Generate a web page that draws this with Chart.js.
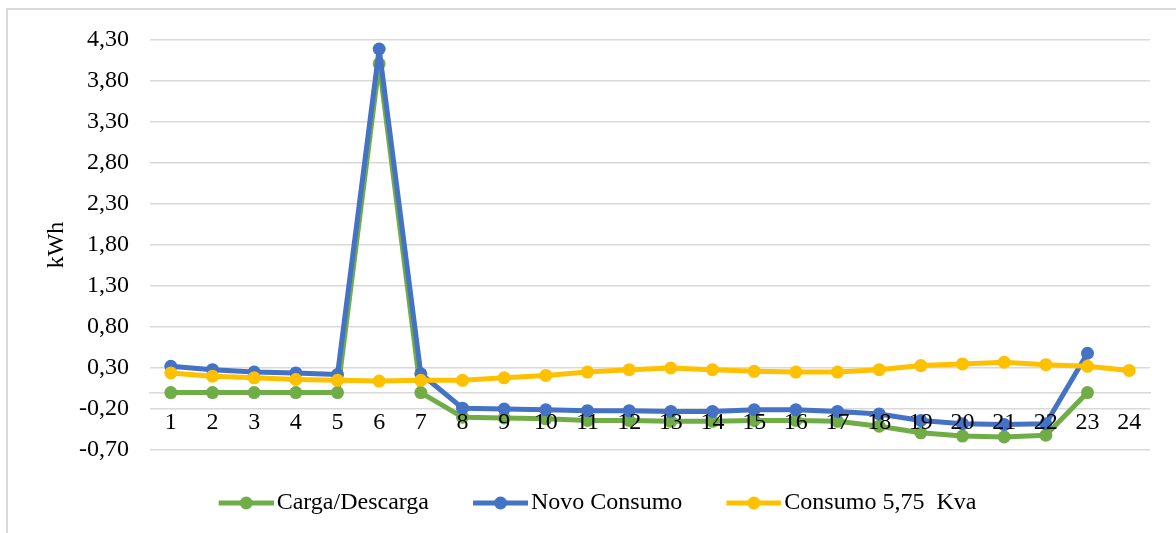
<!DOCTYPE html>
<html>
<head>
<meta charset="utf-8">
<script src="https://cdn.jsdelivr.net/npm/chart.js@4.4.1/dist/chart.umd.min.js"></script>
<style>
    html, body { margin: 0; padding: 0; background: #fff; }
    #wrap { position: relative; width: 1176px; height: 533px; overflow: hidden; }
    #chart { position: absolute; left: 0; top: 0; }
    /* moldura cinza do gráfico (sai pela direita e por baixo) */
    #frame { position: absolute; left: 6px; top: 8px; width: 1250px; height: 600px;
             border: 2px solid #d9d9d9; box-sizing: border-box; pointer-events: none; }
</style>
</head>
<body>
<div id="wrap">
    <canvas id="chart" width="1176" height="533"></canvas>
    <div id="frame"></div>
</div>
<script>
// Dados
const horas = ['1','2','3','4','5','6','7','8','9','10','11','12','13','14','15','16','17','18','19','20','21','22','23','24'];
const cargaDescarga = [0.00, 0.00, 0.00, 0.00, 0.00, 4.01, 0.00, -0.30, -0.31, -0.32, -0.34, -0.34, -0.35, -0.35, -0.34, -0.34, -0.35, -0.41, -0.49, -0.53, -0.54, -0.52, 0.00, null];
const novoConsumo   = [0.32, 0.28, 0.25, 0.24, 0.22, 4.19, 0.23, -0.19, -0.20, -0.21, -0.22, -0.22, -0.23, -0.23, -0.21, -0.21, -0.23, -0.26, -0.34, -0.38, -0.39, -0.38, 0.48, null];
const consumo575    = [0.24, 0.20, 0.18, 0.16, 0.15, 0.14, 0.15, 0.15, 0.18, 0.21, 0.25, 0.28, 0.30, 0.28, 0.26, 0.25, 0.25, 0.28, 0.33, 0.35, 0.37, 0.34, 0.32, 0.27];
const yTicks = [-0.70, -0.20, 0.30, 0.80, 1.30, 1.80, 2.30, 2.80, 3.30, 3.80, 4.30];

const fonte = { family: "'Liberation Serif', 'Times New Roman', serif", size: 24 };
const cores = { verde: '#70ad47', azul: '#4472c4', amarelo: '#ffc000' };

// Ícone da legenda: linha com bolinha no meio
const larguraIcone = 49;
function criarIcone(cor) {
    const c = document.createElement('canvas');
    c.width = larguraIcone + 18;
    c.height = 16;
    const ctx = c.getContext('2d');
    ctx.strokeStyle = cor;
    ctx.lineWidth = 5;
    ctx.beginPath();
    ctx.moveTo(c.width - 55, 8);
    ctx.lineTo(c.width, 8);
    ctx.stroke();
    ctx.fillStyle = cor;
    ctx.beginPath();
    ctx.arc(c.width - 27.5, 8, 6.5, 0, Math.PI * 2);
    ctx.fill();
    return c;
}

function serie(label, data, cor, ordem) {
    return {
        label: label,
        data: data,
        borderColor: cor,
        backgroundColor: cor,
        borderWidth: 5,
        borderJoinStyle: 'round',
        pointRadius: 6.5,
        pointHoverRadius: 6.5,
        pointBorderWidth: 0,
        tension: 0,
        order: ordem
    };
}

const ctx = document.getElementById('chart').getContext('2d');
const grafico = new Chart(ctx, {
    type: 'line',
    data: {
        labels: horas,
        datasets: [
            serie('Carga/Descarga', cargaDescarga, cores.verde, 3),
            serie('Novo Consumo', novoConsumo, cores.azul, 2),
            serie('Consumo 5,75  Kva', consumo575, cores.amarelo, 1)
        ]
    },
    options: {
        responsive: false,
        animation: false,
        layout: { padding: { left: 42, right: 26, top: 40, bottom: 8 } },
        plugins: {
            tooltip: { enabled: false },
            legend: {
                position: 'bottom',
                labels: {
                    usePointStyle: true,
                    pointStyleWidth: larguraIcone,
                    padding: 41,
                    color: '#000',
                    font: fonte,
                    generateLabels: (chart) => chart.data.datasets.map((ds, i) => ({
                        text: ds.label,
                        pointStyle: criarIcone(ds.borderColor),
                        fillStyle: ds.borderColor,
                        strokeStyle: ds.borderColor,
                        lineWidth: 0,
                        fontColor: '#000',
                        hidden: false,
                        datasetIndex: i
                    }))
                }
            }
        },
        scales: {
            x: {
                position: { y: 0 },
                offset: true,
                grid: { display: false },
                border: { display: true, color: '#d9d9d9', width: 1.5 },
                // rótulos por cima das linhas, como no original
                ticks: { z: 1, padding: 8, color: '#000', font: fonte, maxRotation: 0, autoSkip: false }
            },
            y: {
                min: -0.7,
                max: 4.3,
                afterBuildTicks: (s) => { s.ticks = yTicks.map(v => ({ value: v })); },
                afterFit: (s) => { s.width = 108; },
                grid: { color: '#d9d9d9', lineWidth: 1.5, drawTicks: false },
                border: { display: false },
                ticks: {
                    padding: 21,
                    color: '#000',
                    font: fonte,
                    callback: (v) => Number(v).toFixed(2).replace('.', ',')
                },
                title: { display: true, text: 'kWh', color: '#000', font: fonte, padding: 0 }
            }
        }
    }
});
</script>
</body>
</html>
